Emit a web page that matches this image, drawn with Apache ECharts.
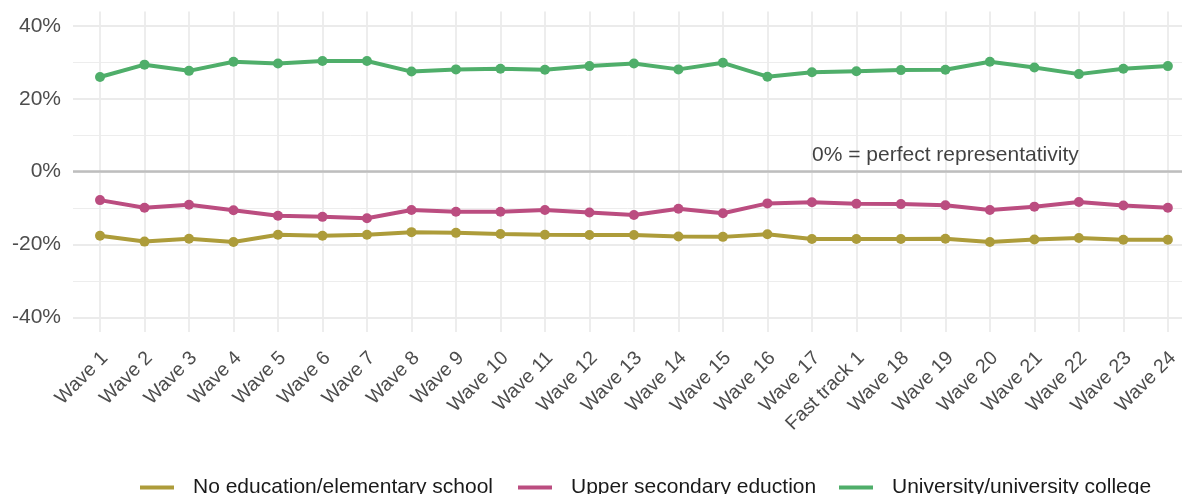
<!DOCTYPE html>
<html>
<head>
<meta charset="utf-8">
<script src="https://cdn.jsdelivr.net/npm/echarts@6/dist/echarts.min.js"></script>
<style>
html,body{margin:0;padding:0;background:#fff;}
#chart{width:1182px;height:494px;}
</style>
</head>
<body>
<div id="chart"></div>
<script>
var categories = ['Wave 1','Wave 2','Wave 3','Wave 4','Wave 5','Wave 6','Wave 7','Wave 8','Wave 9','Wave 10','Wave 11','Wave 12','Wave 13','Wave 14','Wave 15','Wave 16','Wave 17','Fast track 1','Wave 18','Wave 19','Wave 20','Wave 21','Wave 22','Wave 23','Wave 24'];
var noEducation = [-17.6,-19.2,-18.4,-19.3,-17.3,-17.6,-17.3,-16.6,-16.8,-17.1,-17.3,-17.4,-17.4,-17.8,-17.9,-17.2,-18.5,-18.5,-18.5,-18.4,-19.3,-18.6,-18.2,-18.7,-18.7];
var upperSecondary = [-7.8,-9.9,-9.1,-10.6,-12.1,-12.4,-12.8,-10.5,-11.0,-11.0,-10.5,-11.2,-11.9,-10.2,-11.4,-8.7,-8.4,-8.8,-8.9,-9.2,-10.5,-9.6,-8.3,-9.3,-9.9];
var university = [26.0,29.4,27.7,30.2,29.7,30.4,30.4,27.5,28.1,28.3,28.0,29.0,29.7,28.1,29.9,26.1,27.3,27.6,27.9,28.0,30.2,28.6,26.8,28.3,29.0];
var seriesNames = ['No education/elementary school','Upper secondary eduction','University/university college'];
var seriesColors = ['#ad9c3a','#bb4d80','#4fae6a'];
var yTicks = [-40,-20,0,20,40];
var annotationText = '0% = perfect representativity';
var annotationPos = ['Wave 19', 4.6];

var chart = echarts.init(document.getElementById('chart'), null, {renderer:'canvas'});
var FONT = 'Arial, "Liberation Sans", sans-serif';

function lineSeries(name, data, color){
  return {
    name: name, type: 'line', xAxisIndex: 1, yAxisIndex: 1,
    data: data, symbol: 'circle', symbolSize: 10, showSymbol: true,
    lineStyle: {color: color, width: 4},
    itemStyle: {color: color},
    emphasis: {disabled: true}, animation: false, z: 5
  };
}
function legendFor(i, left){
  return {
    data: [seriesNames[i]], left: left, top: 472, orient: 'horizontal',
    icon: 'rect', itemWidth: 34, itemHeight: 4,
    textStyle: {fontSize: 21, color: '#1a1a1a', fontFamily: FONT, padding: [6,0,0,14]},
    selectedMode: false
  };
}

var option = {
  backgroundColor: '#ffffff',
  animation: false,
  textStyle: {fontFamily: FONT},
  grid: [
    {left: 73, right: 0, top: 26.1, bottom: 176.7, containLabel: false},
    {left: 100, right: 10.5, top: 11.5, bottom: 162.1, containLabel: false}
  ],
  xAxis: [
    {type: 'value', gridIndex: 0, min: 0, max: 1, show: false},
    {type: 'category', gridIndex: 1, data: categories, boundaryGap: false,
     axisLine: {show: false}, axisTick: {show: false},
     splitLine: {show: true, lineStyle: {color: '#ebebeb', width: 1.8}},
     axisLabel: {interval: 0, rotate: 45, fontSize: 19.5, color: '#4d4d4d', fontFamily: FONT,
       margin: 14, verticalAlign: 'top', padding: [0,3,0,0]}}
  ],
  yAxis: [
    {type: 'value', gridIndex: 0, min: -40, max: 40, interval: 20,
     axisLine: {show: false}, axisTick: {show: false},
     axisLabel: {fontSize: 21, color: '#4d4d4d', fontFamily: FONT, margin: 12,
       formatter: function(v){ return yTicks.indexOf(v) >= 0 ? v + '%' : ''; }},
     splitLine: {show: true, lineStyle: {color: '#ebebeb', width: 1.8}},
     minorTick: {show: false, splitNumber: 2},
     minorSplitLine: {show: true, lineStyle: {color: '#ededed', width: 1}}},
    {type: 'value', gridIndex: 1, min: -44, max: 44, show: false}
  ],
  legend: [legendFor(0, 135), legendFor(1, 513), legendFor(2, 834)],
  series: [
    {type: 'line', name: 'zero', xAxisIndex: 0, yAxisIndex: 0, data: [], silent: true,
     markLine: {silent: true, symbol: ['none','none'], label: {show: false},
       lineStyle: {color: '#bebebe', width: 2.5, type: 'solid'}, data: [{yAxis: 0}]}, z: 2},
    lineSeries(seriesNames[2], university, seriesColors[2]),
    lineSeries(seriesNames[1], upperSecondary, seriesColors[1]),
    lineSeries(seriesNames[0], noEducation, seriesColors[0]),
    {type: 'scatter', name: 'annotation', xAxisIndex: 1, yAxisIndex: 1, symbolSize: 0,
     silent: true, data: [annotationPos],
     label: {show: true, position: 'inside', formatter: annotationText,
       fontSize: 21, color: '#111111', fontFamily: FONT}, z: 6}
  ]
};
chart.setOption(option);
</script>
</body>
</html>
